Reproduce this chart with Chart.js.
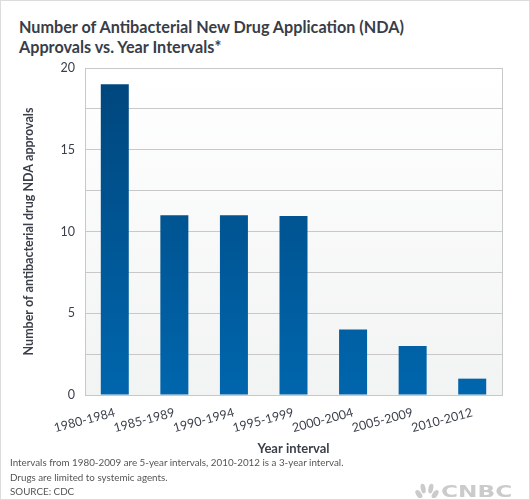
<!DOCTYPE html>
<html>
<head>
<meta charset="utf-8">
<script src="https://cdn.jsdelivr.net/npm/chart.js@4/dist/chart.umd.min.js"></script>
<style>
  html, body { margin: 0; padding: 0; background: #fff; }
  #wrap { position: relative; width: 528px; height: 498px; border: 1px solid #dcdcdc; overflow: hidden; font-family: Lato, sans-serif; }
  #title { position: absolute; left: 18px; top: 16px; font-size: 16.2px; font-weight: 700; line-height: 20px; color: #383d48; }
  #chartBox { position: absolute; left: 0; top: 0; width: 528px; height: 460px; }
  #notes { position: absolute; left: 9px; top: 454px; font-size: 9.8px; line-height: 14.5px; color: #555; }
  #logo { position: absolute; left: 440px; top: 481px; font: 900 16px "DejaVu Sans", sans-serif; color: #cbcbcb; transform: scaleX(1.45); transform-origin: left top; }
  #bird { position: absolute; left: 414px; top: 481px; }
</style>
</head>
<body>
<div id="wrap">
  <div id="title">Number of Antibacterial New Drug Application (NDA)<br>Approvals vs. Year Intervals*</div>
  <div id="chartBox"><canvas id="chart"></canvas></div>
  <div id="notes">Intervals from 1980-2009 are 5-year intervals, 2010-2012 is a 3-year interval.<br>Drugs are limited to systemic agents.<br>SOURCE: CDC</div>
  <svg id="bird" width="24" height="16" viewBox="0 0 24 16">
    <g fill="#cbcbcb">
      <ellipse cx="4" cy="11" rx="2.6" ry="4.2" transform="rotate(-60 12 15)"/>
      <ellipse cx="7" cy="8" rx="2.6" ry="4.6" transform="rotate(-35 12 15)"/>
      <ellipse cx="10" cy="6" rx="2.4" ry="5" transform="rotate(-12 12 15)"/>
      <ellipse cx="14" cy="6" rx="2.4" ry="5" transform="rotate(12 12 15)"/>
      <ellipse cx="17" cy="8" rx="2.6" ry="4.6" transform="rotate(35 12 15)"/>
      <ellipse cx="20" cy="11" rx="2.6" ry="4.2" transform="rotate(60 12 15)"/>
    </g>
  </svg>
  <div id="logo">CNBC</div>
</div>
<script>
  // Data
  const intervals = ["1980-1984", "1985-1989", "1990-1994", "1995-1999", "2000-2004", "2005-2009", "2010-2012"];
  const approvals = [19, 11, 11, 10.95, 4, 3, 1];
  const yTicks = [0, 5, 10, 15, 20];

  // plot background and frame
  const plotBg = {
    id: "plotBg",
    beforeDraw(chart) {
      const { ctx, chartArea: a } = chart;
      const g = ctx.createLinearGradient(0, a.top, 0, a.bottom);
      g.addColorStop(0, "#ffffff");
      g.addColorStop(1, "#f2f3f3");
      ctx.save();
      ctx.fillStyle = g;
      ctx.fillRect(a.left, a.top, a.right - a.left, a.bottom - a.top);
      ctx.restore();
    },
    afterDatasetsDraw(chart) {
      const { ctx, chartArea: a } = chart;
      ctx.save();
      ctx.strokeStyle = "#c8c8c8";
      ctx.lineWidth = 1;
      ctx.strokeRect(Math.round(a.left) + 0.5, Math.round(a.top) + 0.5, Math.round(a.right - a.left), Math.round(a.bottom - a.top));
      ctx.restore();
    }
  };

  function barFill(context) {
    const a = context.chart.chartArea;
    if (!a) return "#00579a";
    const g = context.chart.ctx.createLinearGradient(0, a.top, 0, a.bottom);
    g.addColorStop(0, "#00457b");
    g.addColorStop(1, "#0066ad");
    return g;
  }

  new Chart(document.getElementById("chart"), {
    type: "bar",
    data: {
      labels: intervals,
      datasets: [{ data: approvals, backgroundColor: barFill, categoryPercentage: 1, barPercentage: 0.47 }]
    },
    options: {
      responsive: true,
      maintainAspectRatio: false,
      animation: false,
      layout: { padding: { top: 67, right: 27, left: 16, bottom: 0 } },
      plugins: { legend: { display: false }, tooltip: { enabled: false } },
      scales: {
        x: {
          grid: { display: false },
          border: { display: false },
          ticks: { autoSkip: false, color: "#3a3f4a", font: { family: "Lato", size: 12.5 }, minRotation: 15, maxRotation: 15, padding: 2 },
          title: { display: true, text: "Year interval", color: "#3a3f4a", font: { family: "Lato", size: 13, weight: "bold" }, padding: { top: 2 } },
          afterFit(scale) { scale.height = 66; }
        },
        y: {
          min: 0, max: 20,
          grid: { color: "#c8c8c8", drawTicks: false },
          border: { display: false },
          ticks: {
            stepSize: 2.5, padding: 10, color: "#3a3f4a", font: { family: "Lato", size: 12.5 },
            callback: (v) => (yTicks.includes(v) ? v : "")
          },
          title: { display: true, text: "Number of antibacterial drug NDA approvals", color: "#3a3f4a", font: { family: "Lato", size: 12.5, weight: "bold" }, padding: { bottom: 0 } },
          afterFit(scale) { scale.width = 68; }
        }
      }
    },
    plugins: [plotBg]
  });
</script>
</body>
</html>
